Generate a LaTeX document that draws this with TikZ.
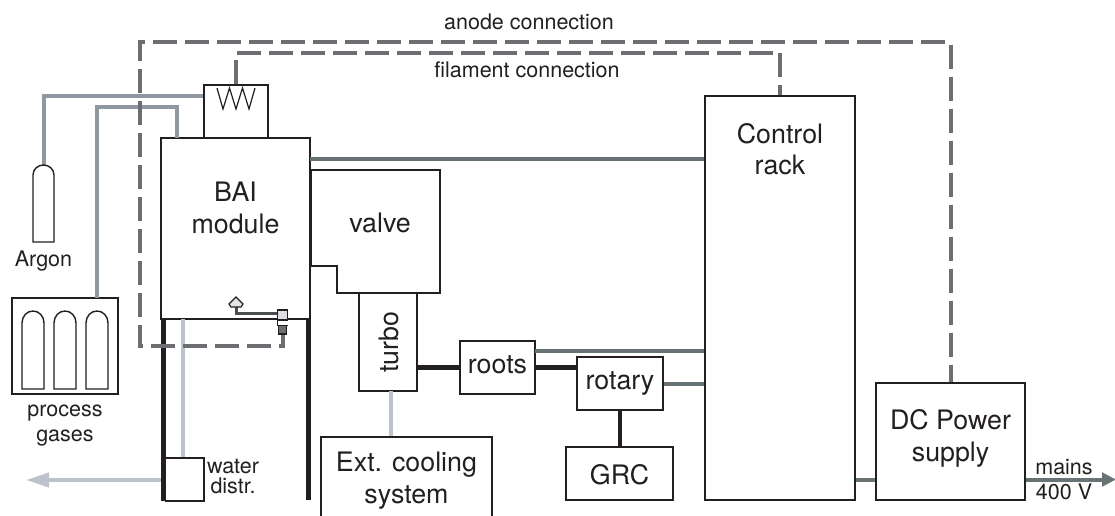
\documentclass[tikz,border=0pt]{standalone}
\usepackage{fontspec}
\setmainfont{TeX Gyre Heros}
\usetikzlibrary{arrows.meta}
\definecolor{inkblack}{HTML}{231F20}
\definecolor{gasgrey}{HTML}{8F98A1}
\definecolor{wiregrey}{HTML}{6D6E71}
\definecolor{powergrey}{HTML}{687375}
\definecolor{watergrey}{HTML}{BCC3CB}
\newcommand{\bigfont}{\fontsize{26.8}{31.5}\selectfont}
\newcommand{\smallfont}{\fontsize{21.5}{25}\selectfont}
\tikzset{
    box/.style={draw=inkblack, fill=white, line width=1.8pt, inner sep=0pt},
    biglabel/.style={text=inkblack, font=\bigfont, align=center, inner sep=0pt},
    smalllabel/.style={text=inkblack, font=\smallfont, align=center, inner sep=0pt},
    gaspipe/.style={draw=gasgrey, line width=4pt},
    waterpipe/.style={draw=watergrey, line width=4pt},
    powerline/.style={draw=powergrey, line width=4pt},
    vacline/.style={draw=inkblack, line width=4.5pt},
    wireline/.style={draw=wiregrey, line width=4pt, dash pattern=on 24pt off 8pt},
}
\begin{document}
\begin{tikzpicture}[x=1pt, y=-1pt]
\useasboundingbox (0,0) rectangle (1115,515);
\clip (0,0) rectangle (1115,515);

\node[box, minimum width=64pt, minimum height=53pt] (heater) at (236,111.5) {};
\node[box, minimum width=149pt, minimum height=181pt] (bai) at (235.5,228.5) {};
\node[box, minimum width=150pt, minimum height=404pt] (rack) at (780,298) {};
\node[box, minimum width=149pt, minimum height=117pt] (dc) at (950.5,441.5) {};
\node[box, minimum width=106pt, minimum height=96pt] (gasbox) at (65,346) {};
\node[box, minimum width=38.5pt, minimum height=42.5pt] (waterbox) at (184.7,479.5) {};

\coordinate (argontop) at (43.5,165);
\coordinate (baiin) at (177,138);
\coordinate (gasout) at (97,298);
\coordinate (baiout) at (310,159);
\coordinate (rootsout) at (535,351);
\coordinate (coolin) at (182.7,319);
\coordinate (barleft) at (163.3,319);
\coordinate (barright) at (308.5,319);
\coordinate (waterend) at (26,480);
\coordinate (mainsend) at (1116,479.5);
\coordinate (anodeA) at (140,346);
\coordinate (anodeB) at (140,42);

\draw[gaspipe] (argontop) |- (heater.west |- 0,95.5);
\draw[gaspipe] (gasout) |- (baiin |- 0,107) -- (baiin);
\draw[powerline] (baiout) -- (baiout -| rack.west);
\draw[waterpipe] (coolin) -- (coolin |- waterbox.north);
\draw[waterpipe, -{Triangle[length=23pt, width=14pt]}] (waterbox.west |- waterend) -- (waterend);
\draw[vacline, line width=5.5pt] (barleft) -- (barleft |- 0,501);
\draw[vacline, line width=5.5pt] (barright) -- (barright |- 0,500);

\draw[wireline] (heater.north) |- (rack.north |- 0,52.7) -- (rack.north);

\node[box, line width=1.4pt, minimum width=8pt, minimum height=9pt, fill=wiregrey] (gaugelow) at (282.7,329.5) {};
\node[box, line width=1.4pt, minimum width=10.5pt, minimum height=15pt, fill=watergrey!50] (gaugetop) at (282.5,317.5) {};
\fill[white] (278,319.5) rectangle (287.5,324.5);
\draw[inkblack, line width=1.4pt] (gaugetop.west |- bai.south) -- (gaugetop.east |- bai.south);
\draw[wireline, dash phase=9pt] (gaugelow.south) |- (anodeA) -- (anodeB) -| (dc.north);
\draw[wiregrey!70!black, line width=3pt] (gaugetop.west |- 0,313.5) -- (236,313.5) -- (236,306);
\draw[inkblack, line width=1.2pt, fill=watergrey!40] (236,297) -- (243,304) -- (241,307) -- (231,307) -- (229,304) -- cycle;
\draw[inkblack, line width=1.2pt] (217,88) -- (223,109) -- (229.5,88) -- (236,109) -- (242.5,88) -- (249,109) -- (255,88);

\draw[box] (311,170) -- (440,170) -- (440,293) -- (337,293) -- (337,266) -- (311,266) -- cycle;
\node[box, rotate=90, minimum width=98pt, minimum height=58pt, font=\bigfont, text=inkblack, text height=22pt] (turbo) at (388,342) {turbo};
\node[box, minimum width=75pt, minimum height=53pt, font=\bigfont, text=inkblack, text depth=6pt] (roots) at (497.5,367.5) {roots};
\node[box, minimum width=86pt, minimum height=53pt, font=\bigfont, text=inkblack, text depth=6pt] (rotary) at (620,383.5) {rotary};
\node[box, minimum width=107pt, minimum height=53pt, font=\bigfont, text=inkblack, text height=23pt] (grc) at (619.5,473.5) {GRC};
\node[box, minimum width=171pt, minimum height=87pt, font=\bigfont, text=inkblack, align=center] (cooling) at (406.5,480.5) {Ext. cooling\\system};

\draw[vacline] (turbo.south |- roots.west) -- (roots.west);
\draw[vacline] (roots.east) -- (rotary.west |- roots.east);
\draw[vacline] (rotary.south) -- (rotary.south |- grc.north);
\draw[waterpipe] (cooling.north -| 391,0) -- (391,391);
\draw[powerline] (rootsout) -- (rootsout -| rack.west);
\draw[powerline] (rotary.east) -- (rack.west |- rotary.east);
\draw[powerline] (rack.east |- mainsend) -- (dc.west |- mainsend);
\draw[powerline, -{Triangle[length=14pt, width=13.5pt]}] (dc.east |- mainsend) -- (mainsend);

\draw[inkblack, line width=1.4pt] (33,242) -- (33,175) .. controls (33,169) and (38,165) .. (43.5,165) .. controls (49,165) and (54,169) .. (54,175) -- (54,242) -- cycle;
\foreach \bottlex in {22,54,86} {
    \draw[inkblack, line width=1.4pt, xshift=\bottlex pt] (0,389) -- (0,323) .. controls (0,316) and (5,311) .. (11,311) .. controls (17,311) and (22,316) .. (22,323) -- (22,389) -- cycle;
}

\node[smalllabel] (anodelabel) at (529,22) {anode connection};
\node[smalllabel] (filamentlabel) at (527,70) {filament connection};
\node[biglabel] (bailabel) at (235.5,208) {BAI\\module};
\node[biglabel] (valvelabel) at (380,223) {valve};
\node[biglabel] (racklabel) at (780,149) {Control\\rack};
\node[biglabel] (dclabel) at (950.5,438.5) {DC Power\\supply};
\node[smalllabel] (argonlabel) at (43.5,261) {Argon};
\node[smalllabel] (gaslabel) at (65,426) {process\\gases};
\node[smalllabel, font=\fontsize{21.5}{20}\selectfont] (waterlabel) at (233,476.5) {water\\distr.};
\node[smalllabel] (mainslabel) at (1064,480) {mains\\400 V};
\end{tikzpicture}
\end{document}
